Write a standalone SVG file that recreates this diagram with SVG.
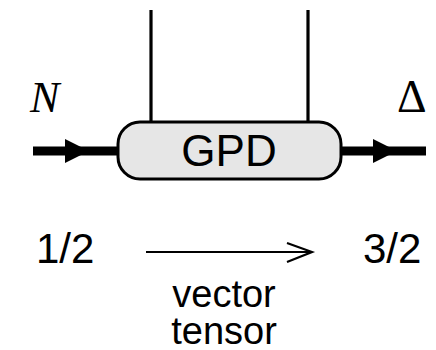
<svg xmlns="http://www.w3.org/2000/svg" width="436" height="350" viewBox="0 0 436 350">
<style>
.sans{font-family:"Liberation Sans",Arial,sans-serif;fill:#000}
.serif{font-family:"Liberation Serif","Times New Roman",serif;fill:#000}
.line{stroke:#000;fill:none}
</style>
<rect width="436" height="350" fill="#fff"/>
<g id="connectors">
<line class="line" x1="151" y1="10" x2="151" y2="122" stroke-width="3.2"/>
<line class="line" x1="308" y1="10" x2="308" y2="122" stroke-width="3.2"/>
<line class="line" x1="33" y1="151" x2="118" y2="151" stroke-width="9"/>
<polygon points="65,139 89,151 65,163" fill="#000"/>
<line class="line" x1="341" y1="151" x2="426" y2="151" stroke-width="9"/>
<polygon points="373,139 397,151 373,163" fill="#000"/>
</g>
<g id="gpd">
<rect x="118" y="122" width="223" height="57" rx="22" ry="22" fill="#e6e6e6" stroke="#000" stroke-width="3"/>
<text class="sans" x="229" y="166" font-size="44" text-anchor="middle">GPD</text>
</g>
<g id="labelN"><text class="serif" x="30" y="112" font-size="44" font-style="italic">N</text></g>
<g id="labelDelta"><text class="serif" x="397" y="112" font-size="46">Δ</text></g>
<g id="spin">
<text class="sans" x="36" y="263" font-size="42">1/2</text>
<text class="sans" x="363" y="263" font-size="42">3/2</text>
<line class="line" x1="146" y1="252" x2="311" y2="252" stroke-width="2.2"/>
<path d="M 287 243 L 312 252 L 287 262" fill="none" stroke="#000" stroke-width="2.2"/>
<text class="sans" x="224" y="307" font-size="38" text-anchor="middle">vector</text>
<text class="sans" x="224" y="344" font-size="38" text-anchor="middle">tensor</text>
</g>
</svg>
